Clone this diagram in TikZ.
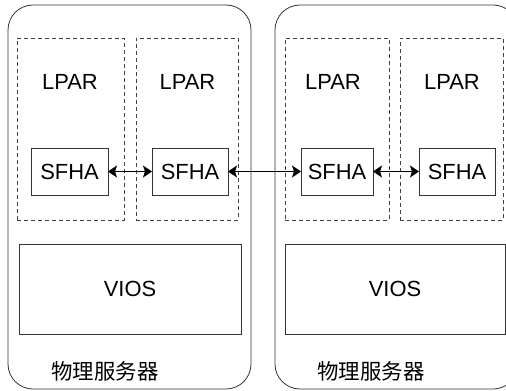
\documentclass[tikz,border=0pt]{standalone}
\usepackage{fontspec}
\setmainfont{Liberation Sans}
\newfontfamily\cjk{Noto Sans CJK SC}
\usetikzlibrary{arrows.meta}
\begin{document}
\begin{tikzpicture}[x=1bp,y=1bp,
  every node/.style={inner sep=0pt,outer sep=0pt},
  server/.style={draw=black!80,line width=0.8bp,rounded corners=25bp},
  lpar/.style={draw=black!75,line width=0.8bp,dash pattern=on 4bp off 3bp,minimum height=182bp},
  sfha/.style={draw=black!80,line width=0.8bp,minimum height=47bp,font=\fontsize{22}{26}\selectfont},
  vios/.style={draw=black!80,line width=0.8bp,minimum height=90bp,font=\fontsize{22}{26}\selectfont},
  lbl/.style={font=\fontsize{22}{26}\selectfont},
  cn/.style={font=\cjk\fontsize{21.5}{26}\selectfont},
  link/.style={line width=1.5bp,{Stealth[length=9bp,width=12bp,inset=2bp]}-{Stealth[length=9bp,width=12bp,inset=2bp]}}]
\useasboundingbox (0,0) rectangle (506,390);
\clip (0,0) rectangle (506,390);
% servers
\node[server,minimum width=243bp,minimum height=384bp] (srv1) at (129.5,193) {};
\node[server,minimum width=243bp,minimum height=384bp] (srv2) at (396.5,193) {};
% LPARs
\node[lpar,minimum width=107bp] (lp1) at (70.5,261) {};
\node[lpar,minimum width=102bp] (lp2) at (187,261) {};
\node[lpar,minimum width=104bp] (lp3) at (337,261) {};
\node[lpar,minimum width=103bp] (lp4) at (451.5,261) {};
\node[lbl] (t1) at (70,308) {LPAR};
\node[lbl] (t2) at (187.5,308) {LPAR};
\node[lbl] (t3) at (333,308) {LPAR};
\node[lbl] (t4) at (452,308) {LPAR};
% SFHA
\node[sfha,minimum width=77bp] (s1) at (69.5,218.5) {SFHA};
\node[sfha,minimum width=76bp] (s2) at (190,218.5) {SFHA};
\node[sfha,minimum width=72bp] (s3) at (337,218.5) {SFHA};
\node[sfha,minimum width=76bp] (s4) at (457,218.5) {SFHA};
% VIOS
\node[vios,minimum width=222bp] (v1) at (130,101) {VIOS};
\node[vios,minimum width=220bp] (v2) at (395,101) {VIOS};
% labels
\node[cn] (c1) at (105,19) {物理服务器};
\node[cn] (c2) at (371,19) {物理服务器};
% links
\draw[link] (s1.east) -- (s2.west);
\draw[link] (s2.east) -- (s3.west);
\draw[link] (s3.east) -- (s4.west);
\end{tikzpicture}
\end{document}
